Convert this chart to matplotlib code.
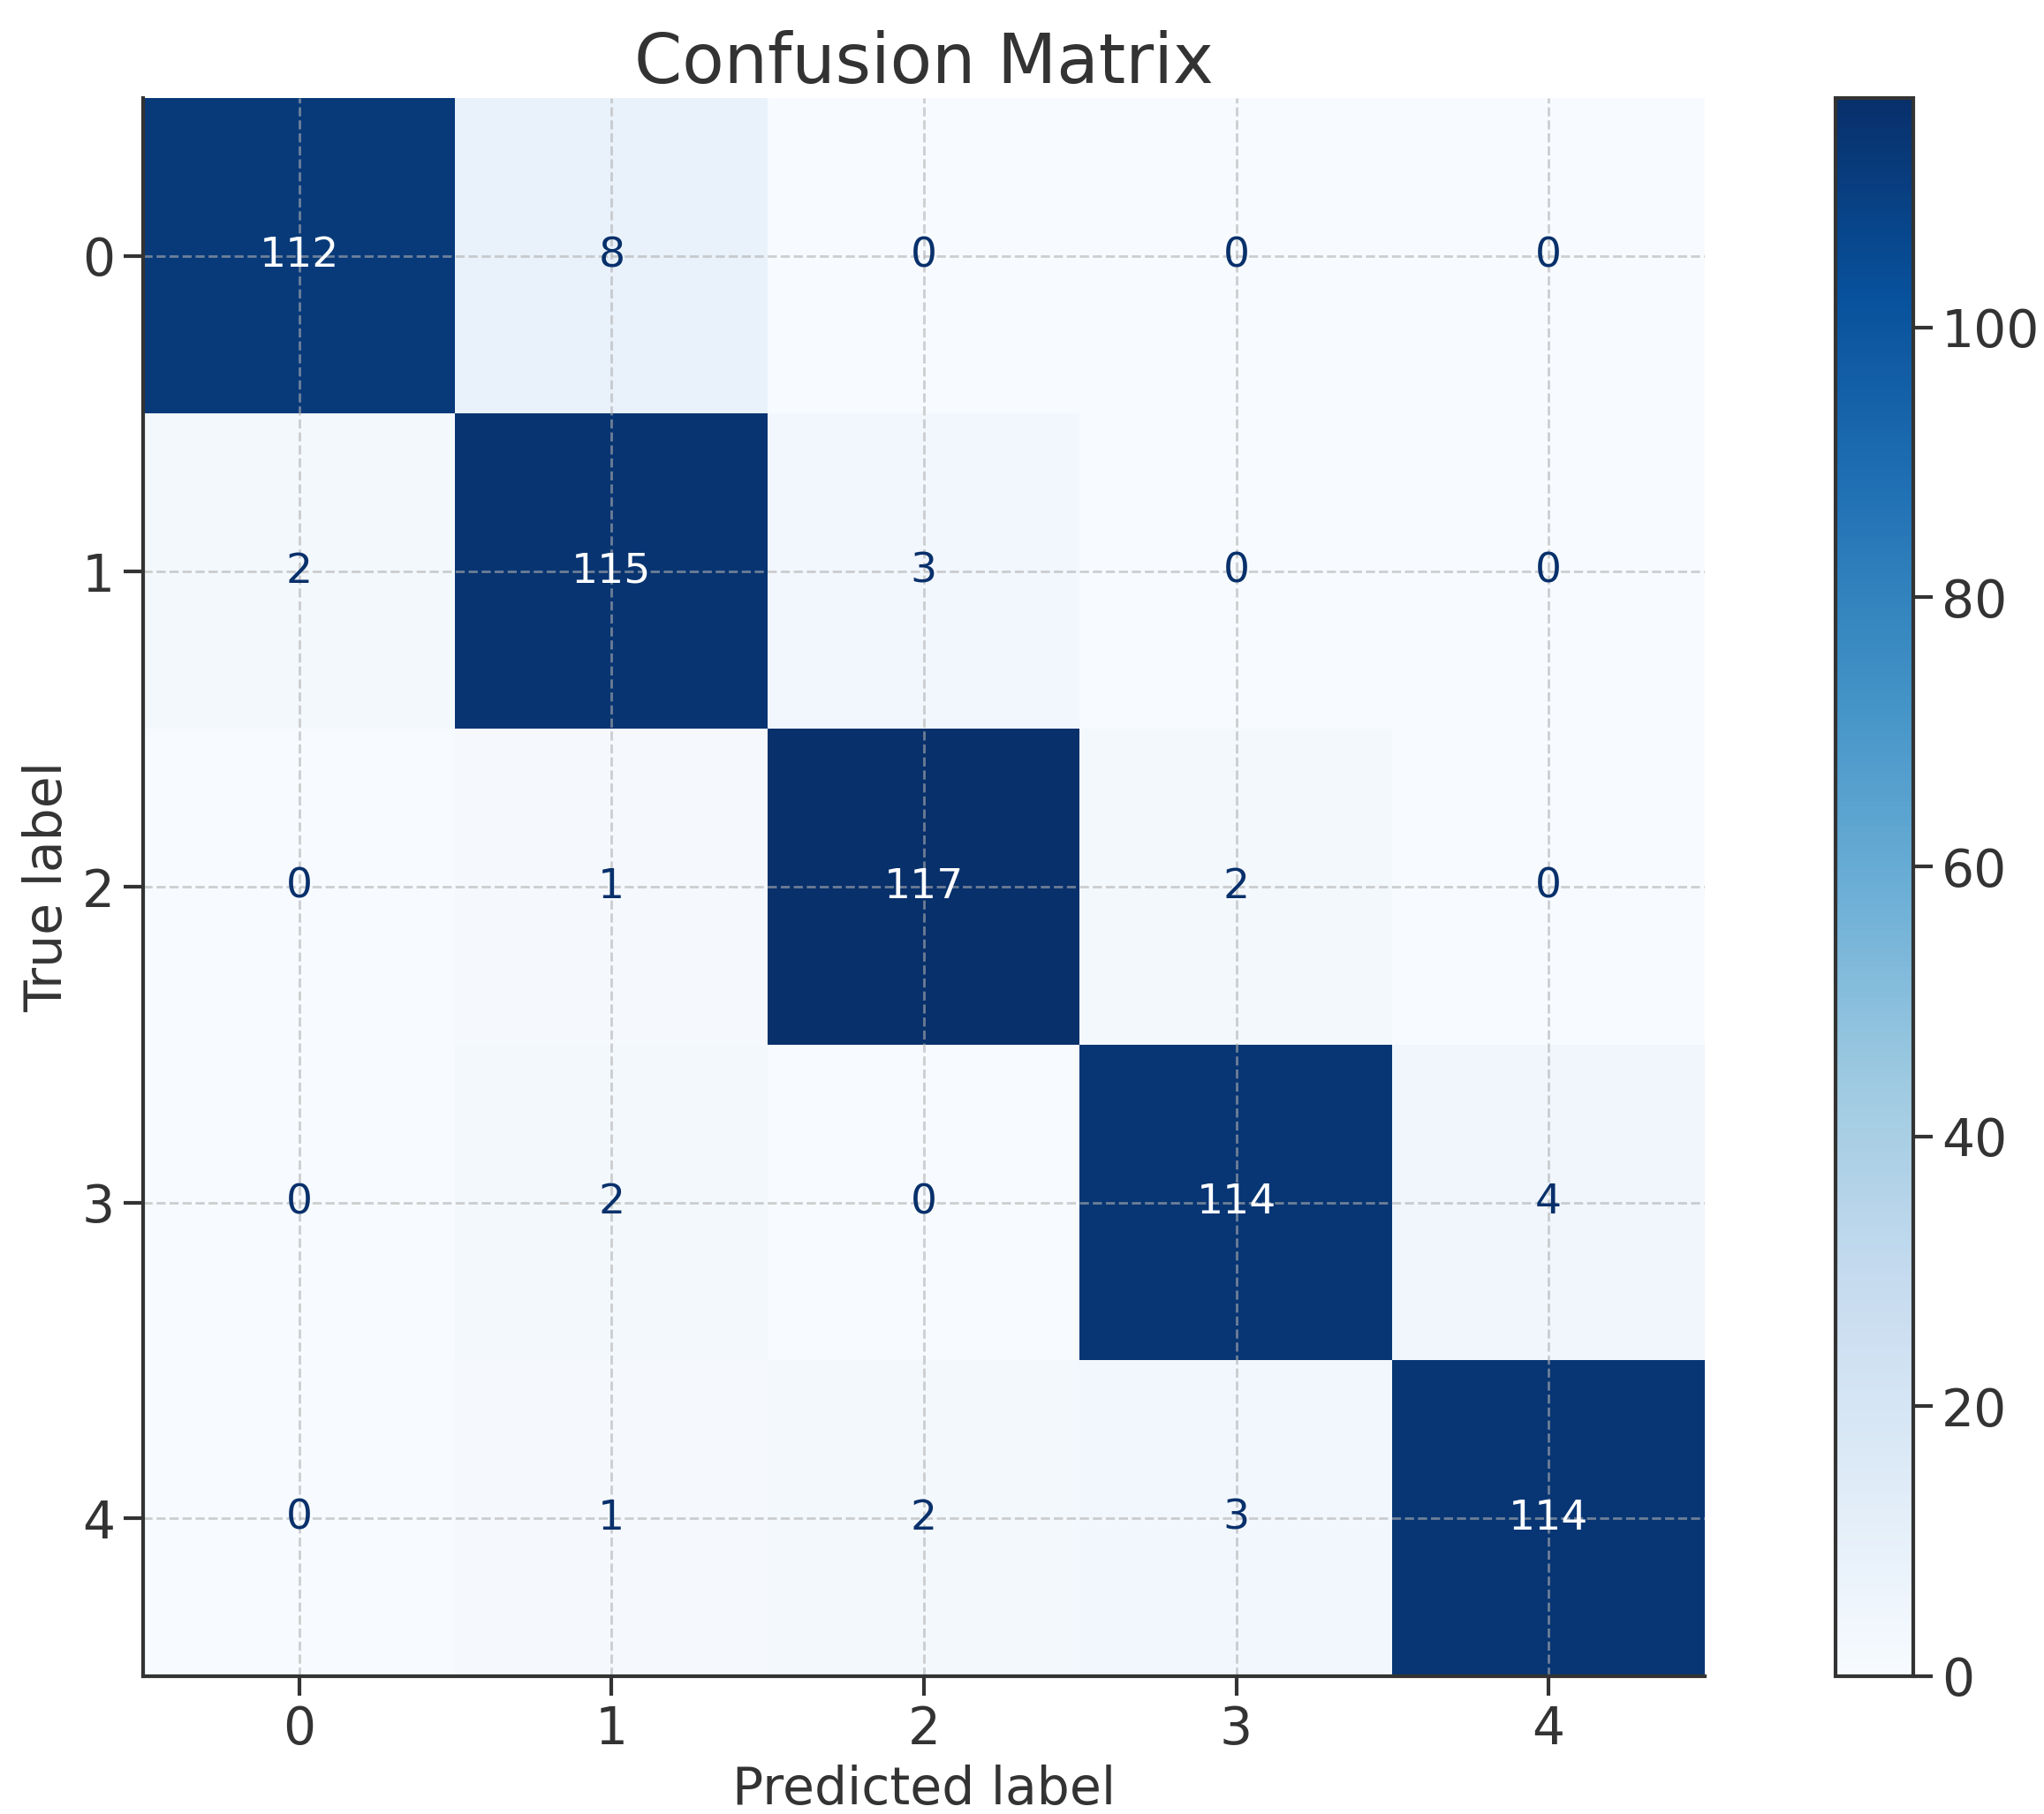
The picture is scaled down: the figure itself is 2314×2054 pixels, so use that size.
import matplotlib
matplotlib.use("Agg")
import matplotlib.pyplot as plt
import numpy as np

labels = ["0", "1", "2", "3", "4"]
matrix = [
    [112, 8, 0, 0, 0],
    [2, 115, 3, 0, 0],
    [0, 1, 117, 2, 0],
    [0, 2, 0, 114, 4],
    [0, 1, 2, 3, 114],
]

cm = np.array(matrix)
text_color = "#333333"

fig = plt.figure(figsize=(11.57, 10.27), dpi=200)
ax = fig.add_axes([0.070, 0.076, 0.764, 0.870])
cax = fig.add_axes([0.898, 0.076, 0.038, 0.870])

im = ax.imshow(cm, cmap="Blues", aspect="auto", vmin=0, vmax=cm.max())
thresh = cm.max() / 2
for i in range(cm.shape[0]):
    for j in range(cm.shape[1]):
        color = "white" if cm[i, j] > thresh else "#08306b"
        ax.text(j, i, str(cm[i, j]), ha="center", va="center", fontsize=17, color=color)

ax.set_xticks(range(len(labels)))
ax.set_xticklabels(labels)
ax.set_yticks(range(len(labels)))
ax.set_yticklabels(labels)
ax.tick_params(labelsize=21, colors=text_color, length=8, width=1.5)
ax.grid(True, linestyle="--", color="#b0b0b0", alpha=0.6, linewidth=1)
for s in ["top", "right"]:
    ax.spines[s].set_visible(False)
for s in ["left", "bottom"]:
    ax.spines[s].set_linewidth(1.5)
    ax.spines[s].set_color(text_color)
ax.set_xlabel("Predicted label", fontsize=21, color=text_color)
ax.set_ylabel("True label", fontsize=21, color=text_color)
ax.set_title("Confusion Matrix", fontsize=28, color=text_color)

cb = fig.colorbar(im, cax=cax)
cb.outline.set_linewidth(1.5)
cb.outline.set_edgecolor(text_color)
cb.ax.tick_params(labelsize=21, colors=text_color, length=8, width=1.5)

fig.savefig("out.png", dpi=200)
